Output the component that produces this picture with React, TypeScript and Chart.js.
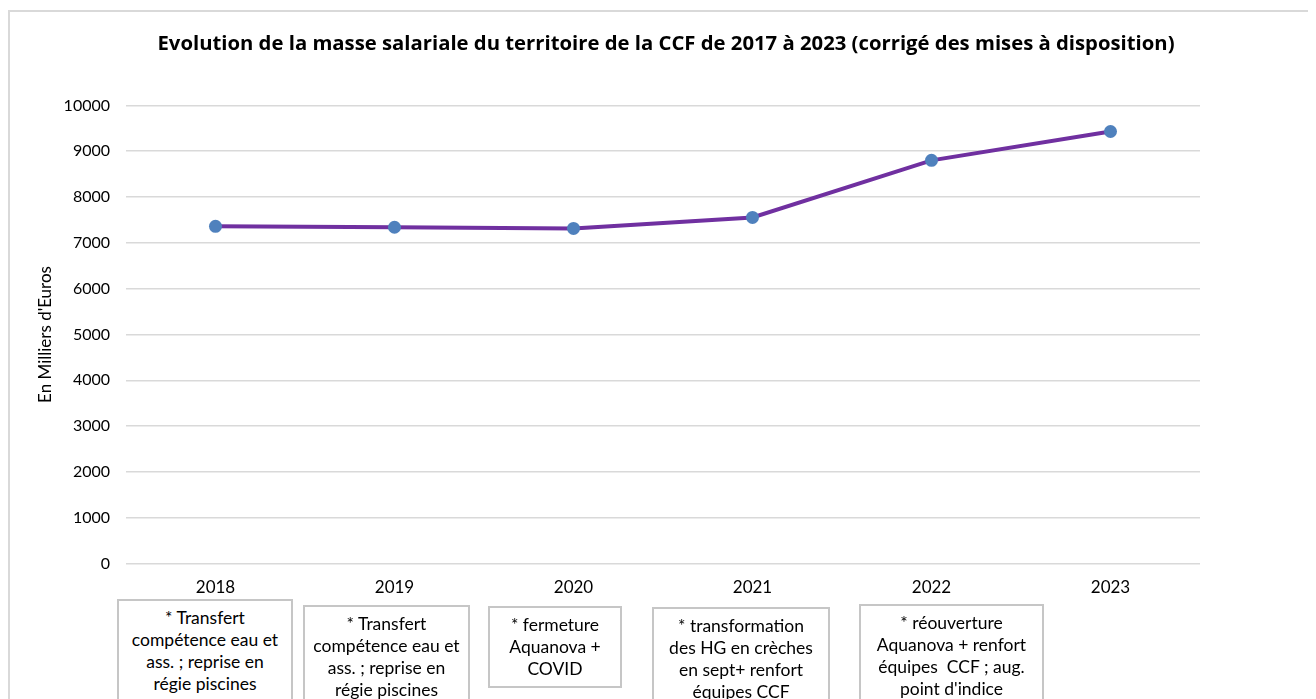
import React, { useEffect, useRef } from "react";
import { Chart, registerables } from "chart.js";

Chart.register(...registerables);

const categories = ["2018", "2019", "2020", "2021", "2022", "2023"];
const masseSalariale = [7360, 7340, 7315, 7555, 8800, 9430];
const yMin = 0;
const yMax = 10000;
const yStep = 1000;
const chartTitle =
  "Evolution de la masse salariale du territoire de la CCF de 2017 à 2023 (corrigé des mises à disposition)";
const yAxisTitle = "En Milliers d'Euros";
const noteLines = [
  ["* Transfert", "compétence eau et", "ass. ; reprise en", "régie piscines"],
  ["* Transfert", "compétence eau et", "ass. ; reprise en", "régie piscines"],
  ["* fermeture", "Aquanova +", "COVID"],
  ["* transformation", "des HG en crèches", "en sept+ renfort", "équipes CCF"],
  ["* réouverture", "Aquanova + renfort", "équipes  CCF ; aug.", "point d'indice"],
];

// layout of the note boxes (px, relative to container at 8,8)
const noteBoxes = [
  { left: 109, top: 591, width: 176 },
  { left: 295, top: 597, width: 167 },
  { left: 480, top: 598, width: 134 },
  { left: 644, top: 599, width: 178 },
  { left: 851, top: 596, width: 185 },
];

const FONT = "Lato, 'Noto Sans', sans-serif";
const TITLE_FONT = "'Open Sans', 'Noto Sans', sans-serif";

export default function App() {
  const canvasRef = useRef<HTMLCanvasElement | null>(null);

  useEffect(() => {
    if (!canvasRef.current) return;
    const chart = new Chart(canvasRef.current, {
      type: "line",
      data: {
        labels: categories,
        datasets: [
          {
            data: masseSalariale,
            yAxisID: "y",
            borderColor: "#7030a0",
            borderWidth: 4,
            pointRadius: 6.5,
            pointHoverRadius: 6.5,
            pointBackgroundColor: "#4f81bd",
            pointBorderColor: "#4f81bd",
            pointBorderWidth: 0,
            tension: 0,
          },
        ],
      },
      options: {
        responsive: false,
        animation: false,
        maintainAspectRatio: false,
        layout: { padding: { left: 8, right: 0, top: 0, bottom: 87 } },
        plugins: {
          legend: { display: false },
          tooltip: { enabled: false },
          title: {
            display: true,
            text: chartTitle,
            color: "#000000",
            font: { family: TITLE_FONT, size: 20.3, weight: "bold" },
            padding: { top: 24, bottom: 49 },
          },
        },
        scales: {
          x: {
            offset: true,
            grid: { display: false, drawTicks: false },
            border: { display: false },
            ticks: {
              color: "#000000",
              font: { family: FONT, size: 17 },
              padding: 14,
              maxRotation: 0,
            },
          },
          y: {
            position: "left",
            min: yMin,
            max: yMax,
            afterFit: (scale: any) => {
              scale.width = 110;
            },
            ticks: {
              stepSize: yStep,
              color: "#000000",
              font: { family: FONT, size: 16 },
              padding: 16,
              callback: (v: any) => String(v),
            },
            grid: { color: "#d9d9d9", lineWidth: 1.5, drawTicks: false },
            border: { display: false },
            title: {
              display: true,
              text: yAxisTitle,
              color: "#000000",
              font: { family: FONT, size: 17 },
              padding: { top: 19, bottom: 0 },
            },
          },
          yRight: {
            position: "right",
            min: yMin,
            max: yMax,
            afterFit: (scale: any) => {
              scale.width = 116;
            },
            ticks: { display: false },
            grid: { display: false, drawTicks: false },
            border: { display: false },
          },
        },
      },
    });
    return () => chart.destroy();
  }, []);

  return (
    <div style={{ position: "relative", width: 1308, height: 691, overflow: "hidden", fontFamily: FONT }}>
      <div
        style={{
          position: "absolute",
          left: 0,
          top: 2,
          width: 1400,
          height: 800,
          borderTop: "2px solid #d9d9d9",
          borderLeft: "2px solid #d9d9d9",
        }}
      />
      <canvas
        ref={canvasRef}
        width={1308}
        height={691}
        style={{ position: "absolute", left: 0, top: 0, width: 1308, height: 691 }}
      />
      {noteLines.map((lines, i) => (
        <div
          key={i}
          style={{
            position: "absolute",
            left: noteBoxes[i].left,
            top: noteBoxes[i].top,
            width: noteBoxes[i].width,
            boxSizing: "border-box",
            border: "2px solid #c6c6c6",
            background: "#ffffff",
            padding: "6px 1px 6px 1px",
            textAlign: "center",
            fontSize: 17.5,
            lineHeight: "22px",
            color: "#000000",
          }}
        >
          {lines.map((l, j) => (
            <div key={j} style={{ whiteSpace: "pre" }}>
              {l}
            </div>
          ))}
        </div>
      ))}
    </div>
  );
}
